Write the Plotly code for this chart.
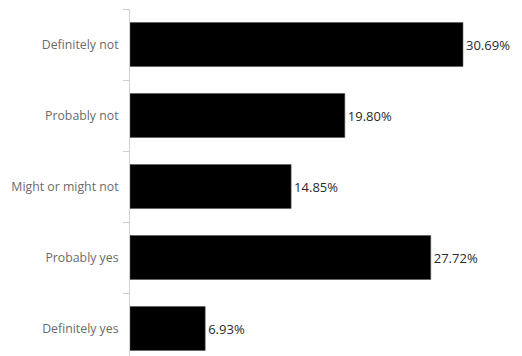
import plotly.graph_objects as go

categories = ["Definitely not", "Probably not", "Might or might not", "Probably yes", "Definitely yes"]
percentages = [30.69, 19.80, 14.85, 27.72, 6.93]
value_labels = [f"{v:.2f}%" for v in percentages]

fig = go.Figure(
    go.Bar(
        x=percentages,
        y=categories,
        orientation="h",
        width=0.62,
        marker=dict(color="#000000", line=dict(color="#555555", width=0.6)),
        text=value_labels,
        textposition="outside",
        textfont=dict(family="Open Sans", size=13, color="#2a2a2a"),
        cliponaxis=False,
        hoverinfo="skip",
    )
)

fig.update_layout(
    width=522,
    height=356,
    margin=dict(l=130, r=0, t=9, b=0),
    paper_bgcolor="white",
    plot_bgcolor="white",
    showlegend=False,
    xaxis=dict(
        range=[0, 36.13],
        visible=False,
        showgrid=False,
        zeroline=False,
    ),
    yaxis=dict(
        type="category",
        categoryorder="array",
        categoryarray=categories,
        range=[4.387, -0.5],
        showline=True,
        linecolor="#d0d0d0",
        linewidth=1,
        ticks="outside",
        tickson="boundaries",
        ticklen=6,
        tickcolor="#d0d0d0",
        tickwidth=1,
        showgrid=False,
        zeroline=False,
        tickfont=dict(family="Open Sans", size=12.3, color="#6b6b6b"),
        ticklabelstandoff=8,
    ),
)

fig.write_html("out.html")
